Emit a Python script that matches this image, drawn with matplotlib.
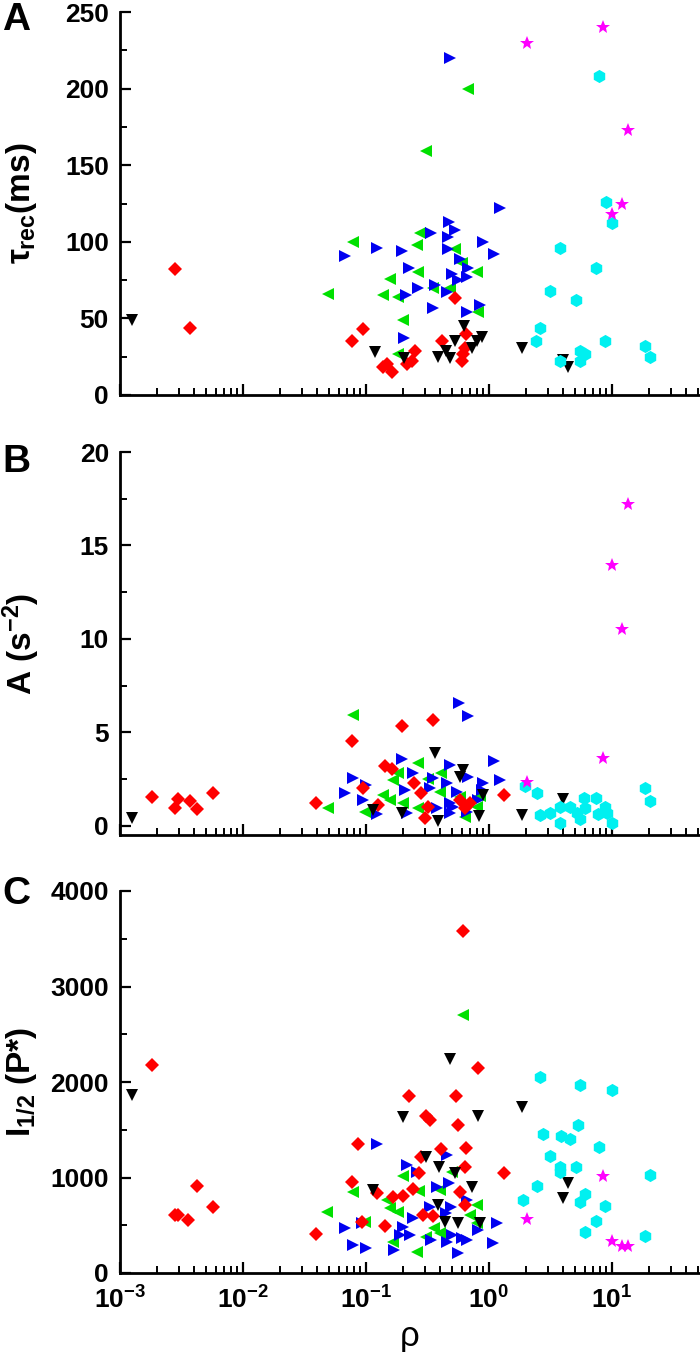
import numpy as np
import matplotlib
matplotlib.use("Agg")
import matplotlib.pyplot as plt
from matplotlib.ticker import MultipleLocator, LogLocator, NullFormatter

plt.rcParams['font.family'] = ['Liberation Sans', 'DejaVu Sans']
plt.rcParams['mathtext.fontset'] = 'custom'
plt.rcParams['mathtext.rm'] = 'Liberation Sans:bold'
plt.rcParams['mathtext.it'] = 'Liberation Sans:bold'
plt.rcParams['mathtext.bf'] = 'Liberation Sans:bold'

# (rho, value) pairs
# panel A: tau_rec (ms)
tau_red = [(2.8e-3, 82), (3.7e-3, 44), (0.077, 35), (0.095, 43), (0.137, 18), (0.148, 20),
           (0.163, 15), (0.215, 20), (0.237, 22), (0.25, 29), (0.415, 35), (0.53, 63),
           (0.6, 22), (0.62, 27), (0.64, 31), (0.65, 40)]
tau_black = [(1.25e-3, 49), (0.118, 28), (0.204, 24), (0.385, 25), (0.447, 29), (0.48, 24),
             (0.53, 35), (0.63, 45), (0.73, 31), (0.8, 35), (0.88, 38), (1.85, 31),
             (4.0, 23), (4.38, 18)]
tau_green = [(0.049, 66), (0.078, 100), (0.137, 65), (0.157, 76), (0.182, 64), (0.182, 27),
             (0.2, 49), (0.26, 98), (0.265, 80), (0.275, 106), (0.31, 159), (0.35, 70),
             (0.48, 70), (0.53, 95), (0.6, 86), (0.675, 200), (0.8, 80), (0.82, 54)]
tau_blue = [(0.068, 91), (0.123, 96), (0.196, 94), (0.204, 37), (0.21, 65), (0.224, 83),
            (0.265, 70), (0.337, 106), (0.35, 57), (0.364, 72), (0.456, 67), (0.464, 103),
            (0.464, 95), (0.47, 113), (0.48, 220), (0.5, 79), (0.53, 108), (0.56, 75),
            (0.58, 89), (0.66, 77), (0.66, 54), (0.676, 83), (0.845, 59), (0.89, 100),
            (1.1, 92), (1.23, 122)]
tau_cyan = [(7.8, 208), (8.9, 126), (10, 112), (3.78, 96), (7.4, 83), (3.13, 68), (5.1, 62),
            (2.6, 44), (2.41, 35), (8.8, 35), (18.5, 32), (20.4, 25), (5.5, 29), (6.0, 27),
            (5.5, 22), (3.78, 22)]
tau_magenta = [(2.04, 230), (8.45, 240), (13.5, 173), (12.0, 125), (10, 118)]

# panel B: A (s^-2)
amp_red = [(1.82e-3, 1.55), (2.96e-3, 1.44), (2.8e-3, 0.96), (3.7e-3, 1.34), (4.2e-3, 0.91),
           (5.7e-3, 1.76), (0.039, 1.23), (0.077, 4.55), (0.095, 2.03), (0.125, 1.12),
           (0.143, 3.2), (0.163, 3.05), (0.196, 5.35), (0.245, 2.3), (0.28, 1.76), (0.3, 0.43),
           (0.32, 1.02), (0.35, 5.67), (0.58, 1.39), (0.64, 0.96), (0.7, 1.23), (1.32, 1.66)]
amp_black = [(1.25e-3, 0.43), (0.115, 0.86), (0.196, 0.7), (0.364, 3.9), (0.385, 0.27),
             (0.58, 2.62), (0.615, 3.0), (0.83, 0.53), (0.89, 1.66), (1.85, 0.59), (4.0, 1.44)]
amp_green = [(0.049, 0.96), (0.078, 5.94), (0.098, 0.75), (0.137, 1.66), (0.157, 1.39),
             (0.166, 2.46), (0.182, 2.83), (0.2, 1.23), (0.265, 3.37), (0.265, 0.96),
             (0.32, 2.51), (0.4, 1.82), (0.41, 2.83), (0.58, 1.55), (0.64, 0.48), (0.8, 1.02),
             (0.85, 1.6)]
amp_blue = [(0.068, 1.76), (0.078, 2.57), (0.095, 1.39), (0.1, 2.19), (0.123, 0.64),
            (0.196, 3.58), (0.207, 1.93), (0.215, 0.7), (0.24, 2.83), (0.33, 2.03), (0.35, 2.57),
            (0.38, 0.96), (0.46, 2.3), (0.48, 3.26), (0.48, 1.23), (0.48, 0.7), (0.51, 1.02),
            (0.55, 1.82), (0.57, 6.58), (0.66, 0.75), (0.676, 5.88), (0.676, 2.62), (0.82, 1.39),
            (0.88, 1.93), (0.89, 2.3), (1.1, 3.48), (1.23, 2.46)]
amp_cyan = [(1.96, 2.14), (2.46, 1.76), (18.5, 2.03), (20.4, 1.34), (5.9, 1.5), (7.4, 1.5),
            (3.78, 1.0), (4.6, 1.0), (8.8, 1.0), (6.0, 0.96), (2.6, 0.59), (3.13, 0.7),
            (5.2, 0.7), (5.5, 0.37), (3.78, 0.16), (7.7, 0.64), (9.1, 0.7), (10, 0.16)]
amp_magenta = [(13.5, 17.2), (10, 13.96), (12, 10.5), (8.45, 3.64), (2.04, 2.35)]

# panel C: I_1/2 (P*)
half_red = [(1.82e-3, 2178), (2.8e-3, 607), (2.96e-3, 607), (3.6e-3, 555), (4.2e-3, 911),
            (5.7e-3, 691), (0.039, 408), (0.077, 953), (0.086, 1351), (0.092, 534),
            (0.123, 838), (0.142, 492), (0.166, 796), (0.2, 806), (0.224, 1853), (0.24, 879),
            (0.27, 1047), (0.28, 1215), (0.29, 607), (0.31, 1644), (0.33, 1602), (0.35, 597),
            (0.41, 1298), (0.54, 1853), (0.56, 1550), (0.58, 848), (0.61, 3581), (0.64, 1110),
            (0.64, 712), (0.65, 1309), (0.82, 2146), (1.32, 1047)]
half_black = [(1.25e-3, 1864), (0.115, 869), (0.2, 1633), (0.31, 1215), (0.39, 1110),
              (0.385, 712), (0.44, 534), (0.48, 2240), (0.53, 1047), (0.56, 523), (0.73, 900),
              (0.82, 1644), (0.85, 523), (1.85, 1738), (4.0, 785), (4.38, 942)]
half_green = [(0.048, 639), (0.078, 848), (0.098, 534), (0.147, 764), (0.157, 680),
              (0.166, 325), (0.182, 639), (0.2, 1016), (0.26, 220), (0.27, 859), (0.31, 377),
              (0.36, 471), (0.4, 869), (0.4, 419), (0.5, 1058), (0.61, 2701), (0.7, 607),
              (0.8, 712), (0.8, 523)]
half_blue = [(0.068, 471), (0.078, 293), (0.092, 523), (0.1, 262), (0.123, 1351), (0.17, 241),
             (0.19, 398), (0.2, 482), (0.215, 1131), (0.23, 398), (0.24, 576), (0.26, 1058),
             (0.33, 691), (0.34, 345), (0.38, 900), (0.45, 628), (0.46, 1235), (0.46, 325),
             (0.47, 942), (0.49, 691), (0.5, 398), (0.56, 209), (0.6, 366), (0.66, 764),
             (0.66, 345), (0.82, 450), (1.07, 314), (1.17, 523)]
half_cyan = [(2.6, 2052), (5.5, 1968), (10, 1916), (5.3, 1550), (2.75, 1455), (3.86, 1434),
             (4.6, 1403), (7.8, 1319), (3.13, 1225), (3.78, 1110), (5.1, 1110), (3.78, 1058),
             (20.4, 1026), (2.46, 911), (6.0, 827), (5.5, 743), (8.8, 702), (1.9, 764),
             (7.4, 544), (6.0, 429), (18.5, 387)]
half_magenta = [(8.45, 1016), (2.04, 565), (10, 335), (12, 283), (13.5, 283)]

xtick_vals = [1e-3, 1e-2, 1e-1, 1, 10]
xtick_labels = [r'$\mathbf{10^{-3}}$', r'$\mathbf{10^{-2}}$', r'$\mathbf{10^{-1}}$',
                r'$\mathbf{10^{0}}$', r'$\mathbf{10^{1}}$']

# marker style per series: (marker, colour, size)
styles = {
    'green': ('<', '#00E000', 9),
    'blue': ('>', '#0000F0', 9),
    'red': ('D', '#FF0000', 7.2),
    'black': ('v', '#000000', 9),
    'cyan': ('h', '#00F0F0', 9.5),
    'magenta': ('*', '#FF00FF', 10),
}

panels = [
    dict(data={'green': tau_green, 'blue': tau_blue, 'red': tau_red, 'black': tau_black,
               'cyan': tau_cyan, 'magenta': tau_magenta},
         ylim=(0, 250), major=50, minor=25, ylabel=r'$\tau_{rec}$(ms)', letter='A',
         rect=[120/700, 1-395/1352, 580/700, 383/1352]),
    dict(data={'green': amp_green, 'blue': amp_blue, 'red': amp_red, 'black': amp_black,
               'cyan': amp_cyan, 'magenta': amp_magenta},
         ylim=(-0.5, 20), major=5, minor=2.5, ylabel=r'A (s$^{-2}$)', letter='B',
         rect=[120/700, 1-835/1352, 580/700, 383/1352]),
    dict(data={'green': half_green, 'blue': half_blue, 'red': half_red, 'black': half_black,
               'cyan': half_cyan, 'magenta': half_magenta},
         ylim=(0, 4000), major=1000, minor=500, ylabel=r'I$_{1/2}$ (P*)', letter='C',
         rect=[120/700, 1-1273/1352, 580/700, 382/1352]),
]
letter_y = [20, 462, 894]

fig = plt.figure(figsize=(7, 13.52), dpi=100)

for i, p in enumerate(panels):
    ax = fig.add_axes(p['rect'])
    for name, pts in p['data'].items():
        m, c, ms = styles[name]
        pts = np.array(pts)
        ax.plot(pts[:, 0], pts[:, 1], linestyle='none', marker=m, color=c,
                markersize=ms, markeredgewidth=0, clip_on=False)
    ax.set_xscale('log')
    ax.set_xlim(1e-3, 52)
    ax.set_ylim(*p['ylim'])
    ax.spines['top'].set_visible(False)
    ax.spines['right'].set_visible(False)
    ax.spines['left'].set_linewidth(2)
    ax.spines['bottom'].set_linewidth(2)
    yt = np.arange(0, p['ylim'][1] + 0.1, p['major'])
    ax.set_yticks(yt)
    ax.set_yticklabels([f'{v:g}' for v in yt], fontsize=19, fontweight='bold')
    ax.yaxis.set_minor_locator(MultipleLocator(p['minor']))
    ax.xaxis.set_minor_locator(LogLocator(base=10, subs=np.arange(2, 10), numticks=20))
    ax.xaxis.set_minor_formatter(NullFormatter())
    ax.set_xticks(xtick_vals)
    if i == 2:
        ax.set_xticklabels(xtick_labels, fontsize=19)
        ax.set_xlabel('ρ', fontsize=25, labelpad=4)
    else:
        ax.set_xticklabels([])
    ax.tick_params(axis='both', which='major', direction='in', length=8, width=1.6)
    ax.tick_params(axis='y', which='major', pad=8)
    ax.tick_params(axis='x', which='major', pad=10)
    ax.tick_params(axis='both', which='minor', direction='in', length=5, width=1.4)
    ax.set_ylabel(p['ylabel'], fontsize=24, fontweight='bold')
    ax.yaxis.label.set_va('center')
    ax.yaxis.set_label_coords(-0.17, 0.5)
    fig.text(2/700, 1 - letter_y[i]/1352, p['letter'], fontsize=28, fontweight='bold',
             ha='left', va='center')

fig.savefig('out.png', dpi=100)
